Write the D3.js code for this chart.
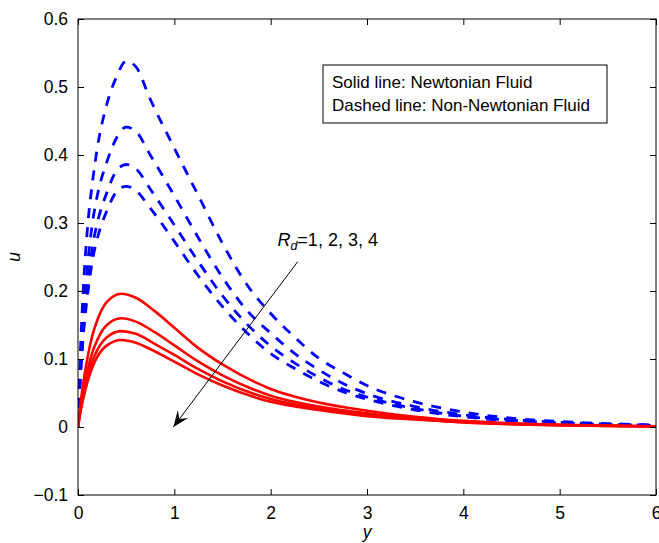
<!DOCTYPE html>
<html>
<head>
<meta charset="utf-8">
<script src="https://cdn.jsdelivr.net/npm/d3@7"></script>
<style>
  html, body { margin: 0; padding: 0; background: #fff; }
  svg { display: block; }
  text { font-family: "Liberation Sans", Arial, Helvetica, sans-serif; fill: #000; }
</style>
</head>
<body>
<svg id="chart" width="659" height="543"></svg>
<script>
// ---- data ----
const xTicks = [0, 1, 2, 3, 4, 5, 6];
const yTicks = [-0.1, 0, 0.1, 0.2, 0.3, 0.4, 0.5, 0.6];
const rdLabels = ["1", "2", "3", "4"];

// Newtonian fluid (solid red), Rd = 1..4
const yRed = [0, 0.025, 0.05, 0.1, 0.15, 0.2, 0.3, 0.45, 0.6, 0.8, 1, 1.25, 1.5, 2, 2.5, 3, 3.5, 4, 4.5, 5, 5.5, 6];
const redRd1 = [0, 0.033, 0.060, 0.103, 0.135, 0.157, 0.184, 0.196, 0.190, 0.170, 0.146, 0.116, 0.092, 0.056, 0.036, 0.024, 0.015, 0.009, 0.0055, 0.0033, 0.002, 0.001];
const redRd2 = [0, 0.027, 0.049, 0.084, 0.110, 0.128, 0.150, 0.160, 0.155, 0.139, 0.120, 0.096, 0.076, 0.046, 0.030, 0.020, 0.013, 0.008, 0.0048, 0.003, 0.0018, 0.001];
const redRd3 = [0, 0.024, 0.043, 0.074, 0.097, 0.113, 0.132, 0.141, 0.137, 0.122, 0.106, 0.085, 0.067, 0.041, 0.027, 0.018, 0.012, 0.0072, 0.0044, 0.0027, 0.0016, 0.0009];
const redRd4 = [0, 0.022, 0.039, 0.067, 0.088, 0.103, 0.120, 0.128, 0.124, 0.111, 0.096, 0.077, 0.061, 0.037, 0.025, 0.016, 0.011, 0.0066, 0.004, 0.0025, 0.0015, 0.0008];

// Non-Newtonian fluid (dashed blue), Rd = 1..4
const yBlue = [0, 0.025, 0.05, 0.1, 0.15, 0.2, 0.3, 0.4, 0.5, 0.6, 0.75, 1, 1.25, 1.5, 1.75, 2, 2.25, 2.5, 2.75, 3, 3.5, 4, 4.5, 5, 5.5, 6];
const blueRd1 = [0, 0.11, 0.19, 0.295, 0.36, 0.41, 0.475, 0.515, 0.538, 0.530, 0.482, 0.410, 0.340, 0.270, 0.210, 0.167, 0.132, 0.101, 0.080, 0.061, 0.037, 0.022, 0.013, 0.008, 0.005, 0.003];
const blueRd2 = [0, 0.09, 0.155, 0.24, 0.30, 0.34, 0.39, 0.425, 0.441, 0.435, 0.400, 0.340, 0.278, 0.220, 0.172, 0.138, 0.108, 0.084, 0.064, 0.049, 0.030, 0.018, 0.011, 0.007, 0.004, 0.0025];
const blueRd3 = [0, 0.08, 0.135, 0.21, 0.265, 0.30, 0.345, 0.377, 0.386, 0.380, 0.350, 0.297, 0.243, 0.193, 0.152, 0.119, 0.094, 0.073, 0.056, 0.044, 0.027, 0.016, 0.010, 0.006, 0.0037, 0.0023];
const blueRd4 = [0, 0.07, 0.125, 0.195, 0.245, 0.277, 0.318, 0.346, 0.354, 0.348, 0.322, 0.273, 0.222, 0.177, 0.139, 0.108, 0.086, 0.067, 0.052, 0.041, 0.025, 0.015, 0.009, 0.0055, 0.0034, 0.002];

const legendLines = ["Solid line: Newtonian Fluid", "Dashed line: Non-Newtonian Fluid"];

// annotation arrow (data coordinates)
const arrowFrom = [2.28, 0.243];
const arrowTo = [0.99, 0.0];
const labelAt = [2.07, 0.266];

// ---- layout ----
const W = 659, H = 543;
const margin = { top: 19, right: 3, bottom: 48, left: 78 };
const iw = W - margin.left - margin.right;
const ih = H - margin.top - margin.bottom;

const svg = d3.select("#chart");
const g = svg.append("g").attr("transform", `translate(${margin.left},${margin.top})`);

const x = d3.scaleLinear().domain([0, 6]).range([0, iw]);
const y = d3.scaleLinear().domain([-0.1, 0.6]).range([ih, 0]);

const fs = 17.5;
const fmt = d => (d < 0 ? "\u2212" + Math.abs(d) : String(d));

svg.append("defs").append("clipPath").attr("id", "clip")
  .append("rect").attr("width", iw).attr("height", ih);

const line = xs => d3.line()
  .x((d, i) => x(xs[i]))
  .y(d => y(d))
  .curve(d3.curveMonotoneX);

const plot = g.append("g").attr("clip-path", "url(#clip)");

[blueRd1, blueRd2, blueRd3, blueRd4].forEach(s => {
  plot.append("path")
    .attr("d", line(yBlue)(s))
    .attr("fill", "none")
    .attr("stroke", "#0000ff")
    .attr("stroke-width", 2.8)
    .attr("stroke-dasharray", "10,9");
});

[redRd1, redRd2, redRd3, redRd4].forEach(s => {
  plot.append("path")
    .attr("d", line(yRed)(s))
    .attr("fill", "none")
    .attr("stroke", "#ff0000")
    .attr("stroke-width", 2.6);
});

// axes (ticks inward, box on)
const tickLen = 6;
const axB = g.append("g").attr("transform", `translate(0,${ih})`)
  .call(d3.axisBottom(x).tickValues(xTicks).tickSizeInner(-tickLen).tickSizeOuter(0).tickPadding(12).tickFormat(d3.format("d")));
const axT = g.append("g")
  .call(d3.axisTop(x).tickValues(xTicks).tickSizeInner(-tickLen).tickSizeOuter(0).tickFormat(""));
const axL = g.append("g")
  .call(d3.axisLeft(y).tickValues(yTicks).tickSizeInner(-tickLen).tickSizeOuter(0).tickPadding(10).tickFormat(fmt));
const axR = g.append("g").attr("transform", `translate(${iw},0)`)
  .call(d3.axisRight(y).tickValues(yTicks).tickSizeInner(-tickLen).tickSizeOuter(0).tickFormat(""));

[axB, axT, axL, axR].forEach(a => {
  a.select(".domain").remove();
  a.selectAll("line").attr("stroke", "#000").attr("stroke-width", 1);
  a.selectAll("text").attr("font-size", fs).attr("font-family", "Liberation Sans, Arial, sans-serif").attr("fill", "#000");
});

g.append("rect").attr("width", iw).attr("height", ih)
  .attr("fill", "none").attr("stroke", "#000").attr("stroke-width", 1);

// axis labels
svg.append("text")
  .attr("x", margin.left + x(3)).attr("y", 538)
  .attr("text-anchor", "middle").attr("font-size", fs).attr("font-style", "italic")
  .text("y");
svg.append("text")
  .attr("transform", `translate(20,${margin.top + y(0.25)}) rotate(-90)`)
  .attr("text-anchor", "middle").attr("font-size", fs).attr("font-style", "italic")
  .text("u");

// legend box
const lg = svg.append("g").attr("transform", "translate(323,65)");
lg.append("rect").attr("width", 284).attr("height", 58)
  .attr("fill", "#fff").attr("stroke", "#000").attr("stroke-width", 1);
legendLines.forEach((t, i) => {
  lg.append("text").attr("x", 9).attr("y", 23 + i * 23)
    .attr("font-size", 17).text(t);
});

// annotation arrow
const ax0 = x(arrowFrom[0]), ay0 = y(arrowFrom[1]);
const ax1 = x(arrowTo[0]), ay1 = y(arrowTo[1]);
g.append("line")
  .attr("x1", ax0).attr("y1", ay0).attr("x2", ax1).attr("y2", ay1)
  .attr("stroke", "#000").attr("stroke-width", 1);
const ang = Math.atan2(ay1 - ay0, ax1 - ax0);
const hl = 16, hw = 6.5, back = 10;
const ux = Math.cos(ang), uy = Math.sin(ang);
const px = -uy, py = ux;
const bx = ax1 - ux * hl, by = ay1 - uy * hl;
const head = [
  [ax1, ay1],
  [bx + px * hw, by + py * hw],
  [ax1 - ux * back, ay1 - uy * back],
  [bx - px * hw, by - py * hw]
];
g.append("path").attr("d", "M" + head.map(p => p.join(",")).join("L") + "Z").attr("fill", "#000");

const lab = g.append("text")
  .attr("x", x(labelAt[0])).attr("y", y(labelAt[1]))
  .attr("font-size", 18);
lab.append("tspan").attr("font-style", "italic").text("R");
lab.append("tspan").attr("font-style", "italic").attr("font-size", 12.5).attr("dy", 4).text("d");
lab.append("tspan").attr("dy", -4).text("=" + rdLabels.join(", "));
</script>
</body>
</html>
